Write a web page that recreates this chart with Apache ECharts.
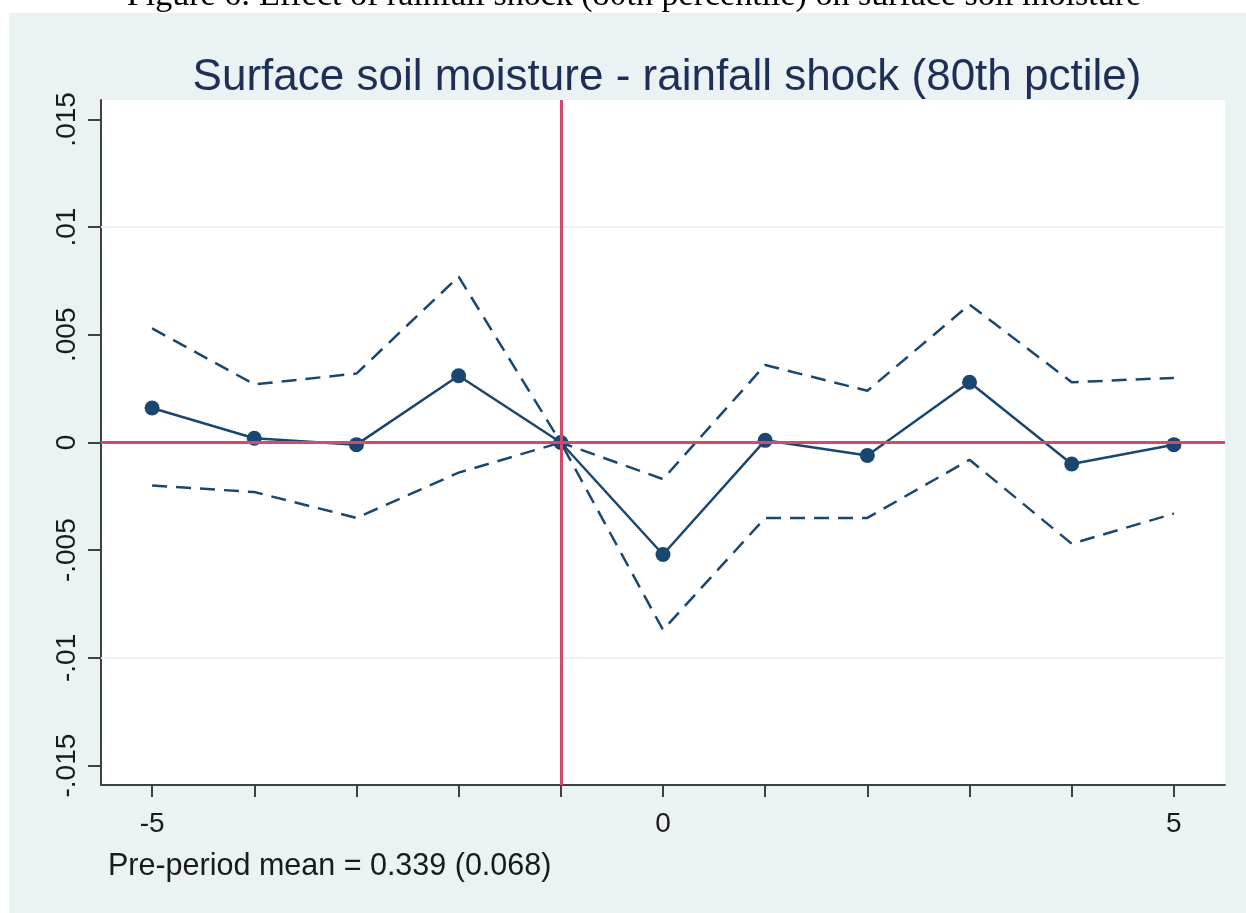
<!DOCTYPE html>
<html>
<head>
<meta charset="utf-8">
<script src="https://cdn.jsdelivr.net/npm/echarts@6/dist/echarts.min.js"></script>
<style>html,body{margin:0;padding:0;background:#fff}#c{width:1246px;height:913px}</style>
</head>
<body>
<div id="c"></div>
<script>
const periods = [-5, -4, -3, -2, -1, 0, 1, 2, 3, 4, 5];
const estimate = [0.0016, 0.0002, -0.0001, 0.0031, 0, -0.0052, 0.0001, -0.0006, 0.0028, -0.0010, -0.0001];
const upperCI = [0.0053, 0.0027, 0.0032, 0.0077, 0, -0.0017, 0.0036, 0.0024, 0.0064, 0.0028, 0.0030];
const lowerCI = [-0.0020, -0.0023, -0.0035, -0.0014, 0, -0.0087, -0.0035, -0.0035, -0.0008, -0.0047, -0.0033];
const yTicks = [-0.015, -0.01, -0.005, 0, 0.005, 0.01, 0.015];
const xTicks = [-5, -4, -3, -2, -1, 0, 1, 2, 3, 4, 5];
const xLabels = [-5, 0, 5];
const refX = -1;
const refY = 0;
const titleText = 'Surface soil moisture - rainfall shock (80th pctile)';
const captionText = 'Figure 6: Effect of rainfall shock (80th percentile) on surface soil moisture';
const noteText = 'Pre-period mean = 0.339 (0.068)';

const navy = '#1a476f';
const red = '#d24b6c';
const fmtY = v => {
  if (Math.abs(v) < 1e-12) return '0';
  return String(parseFloat(v.toFixed(4))).replace('0.', '.');
};
const pair = arr => periods.map((p, i) => [p, arr[i]]);

const chart = echarts.init(document.getElementById('c'), null, {renderer: 'canvas'});
chart.setOption({
  backgroundColor: '#eaf2f3',
  animation: false,
  title: {
    text: titleText,
    left: 662, top: 51, textAlign: 'center',
    textStyle: {fontFamily: 'Liberation Sans', fontSize: 44, fontWeight: 'normal', color: '#1e2f57'}
  },
  graphic: [
    {type: 'rect', left: 0, top: 0, shape: {x: 0, y: 0, width: 1246, height: 13}, style: {fill: '#fff'}, z: 0},
    {type: 'rect', left: 0, top: 0, shape: {x: 0, y: 0, width: 9, height: 913}, style: {fill: '#fff'}, z: 0},
    {type: 'text', x: 634, y: 13, z: 1,
      style: {text: captionText, fontFamily: 'Liberation Serif', fontSize: 34, fill: '#000', align: 'center', verticalAlign: 'bottom'}},
    {type: 'text', x: 108, y: 867, z: 1,
      style: {text: noteText, fontFamily: 'Liberation Sans', fontSize: 30.5, fill: '#1a1a1a', align: 'left', verticalAlign: 'middle'}}
  ],
  grid: {left: 101, right: 21, top: 100, bottom: 128, show: true, backgroundColor: '#ffffff', borderWidth: 0},
  xAxis: {
    type: 'value', min: -5.5, max: 5.5,
    axisLine: {show: true, onZero: false, lineStyle: {color: '#404040', width: 2}},
    axisTick: {show: true, length: 12, customValues: xTicks, lineStyle: {color: '#404040', width: 2}},
    axisLabel: {customValues: xLabels, margin: 25, fontFamily: 'Liberation Sans', fontSize: 28, color: '#1a1a1a'},
    splitLine: {show: false}
  },
  yAxis: {
    type: 'value', min: -0.0159, max: 0.0159,
    axisLine: {show: true, onZero: false, lineStyle: {color: '#404040', width: 2}},
    axisTick: {show: true, length: 13, customValues: yTicks, lineStyle: {color: '#404040', width: 2}},
    axisLabel: {customValues: yTicks, rotate: 90, margin: 20, formatter: fmtY, fontFamily: 'Liberation Sans', fontSize: 28, color: '#1a1a1a'},
    splitLine: {show: false}
  },
  series: [
    {type: 'line', data: [], z: 1, silent: true,
      markLine: {silent: true, symbol: 'none', animation: false, label: {show: false},
        lineStyle: {color: '#eaf2f3', width: 2, type: 'solid'},
        data: yTicks.map(v => ({yAxis: v}))}},
    {type: 'line', data: [], z: 2, silent: true,
      markLine: {silent: true, symbol: 'none', animation: false, label: {show: false},
        lineStyle: {color: red, width: 3, type: 'solid'},
        data: [{yAxis: refY}, {xAxis: refX}]}},
    {type: 'line', data: pair(upperCI), z: 3, showSymbol: false, symbol: 'none',
      lineStyle: {color: navy, width: 2.5, type: [15, 9]}},
    {type: 'line', data: pair(lowerCI), z: 3, showSymbol: false, symbol: 'none',
      lineStyle: {color: navy, width: 2.5, type: [15, 9]}},
    {type: 'line', data: pair(estimate), z: 4, symbol: 'circle', symbolSize: 15,
      itemStyle: {color: navy}, lineStyle: {color: navy, width: 2.5}}
  ]
});
</script>
</body>
</html>
